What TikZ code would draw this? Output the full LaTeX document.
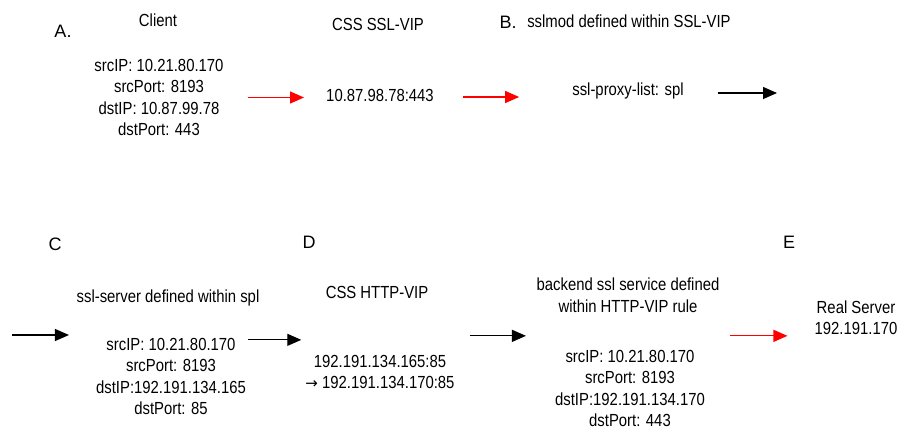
\documentclass[tikz,border=0pt]{standalone}
\usepackage{fontspec}
\setmainfont{Liberation Sans}[FakeStretch=0.85]
\newfontfamily\tagfont{Liberation Sans}
\newfontfamily\symfont{DejaVu Sans}
\usetikzlibrary{arrows.meta}
\tikzset{
  txt/.style={align=center,inner sep=0pt,font=\fontsize{17.5}{21.5}\selectfont},
  tag/.style={inner sep=0pt,font=\tagfont\fontsize{18}{20}\selectfont},
  flow/.style={-{Triangle[length=14pt,width=12pt]},line width=1.2pt},
  redflow/.style={flow,draw=red,fill=red},
}
\begin{document}
\begin{tikzpicture}[x=1pt,y=-1pt]
    \useasboundingbox (0,0) rectangle (900,434);
    % step A: client
    \node[tag] (tA) at (63,31) {A.};
    \node[txt] (client) at (158,20) {Client};
    \node[txt] (cinfo) at (159,97.5) {srcIP: 10.21.80.170\\srcPort: 8193\\dstIP: 10.87.99.78\\dstPort: 443};
    \node[txt] (sslvip) at (378,24) {CSS SSL-VIP};
    \node[txt] (vipaddr) at (380,95) {10.87.98.78:443};
    % step B: sslmod
    \node[tag] (tB) at (508,22) {B.};
    \node[txt] (sslmod) at (629,21) {sslmod defined within SSL-VIP};
    \node[txt] (proxy) at (628,91) {ssl-proxy-list: spl};
    \coordinate (wrapout) at (777,93);
    % step C: ssl-server
    \node[tag] (tC) at (55,244) {C};
    \node[txt] (srvname) at (168,298) {ssl-server defined within spl};
    \node[txt] (sinfo) at (171,376.5) {srcIP: 10.21.80.170\\srcPort: 8193\\dstIP:192.191.134.165\\dstPort: 85};
    \coordinate (wrapin) at (12,335);
    % step D: http vip
    \node[tag] (tD) at (309,242) {D};
    \node[txt] (httpvip) at (377,292) {CSS HTTP-VIP};
    \node[txt] (httpaddr) at (380,372) {192.191.134.165:85\\{\symfont\fontsize{15}{15}\selectfont →} 192.191.134.170:85};
    \node[txt] (backend) at (628,295) {backend ssl service defined\\within HTTP-VIP rule};
    \node[txt] (binfo) at (630,388.5) {srcIP: 10.21.80.170\\srcPort: 8193\\dstIP:192.191.134.170\\dstPort: 443};
    % step E: real server
    \node[tag] (tE) at (789,242) {E};
    \node[txt] (real) at (856,317.5) {Real Server\\192.191.170};
    % arrows
    \draw[redflow,shorten <=24pt,shorten >=22pt] (cinfo.east) -- (cinfo.east -| vipaddr.west);
    \draw[redflow,shorten <=29pt,shorten >=53pt] ([yshift=-2pt]vipaddr.east) -- ([yshift=-2pt]vipaddr.east -| proxy.west);
    \draw[flow,shorten <=34pt] (wrapout -| proxy.east) -- (wrapout);
    \draw[flow,shorten >=27pt] (wrapin) -- (wrapin -| sinfo.west);
    \draw[flow,shorten <=2pt,shorten >=4pt] ([yshift=-2pt]sinfo.north east) -- ([yshift=-2pt]sinfo.north east -| httpaddr.west);
    \draw[flow,shorten <=15pt,shorten >=29pt] ([yshift=14pt]binfo.north west -| httpaddr.east) -- ([yshift=14pt]binfo.north west);
    \draw[redflow,shorten <=25pt,shorten >=27pt] ([yshift=14pt]binfo.north east) -- ([yshift=14pt]binfo.north east -| real.west);
\end{tikzpicture}
\end{document}
